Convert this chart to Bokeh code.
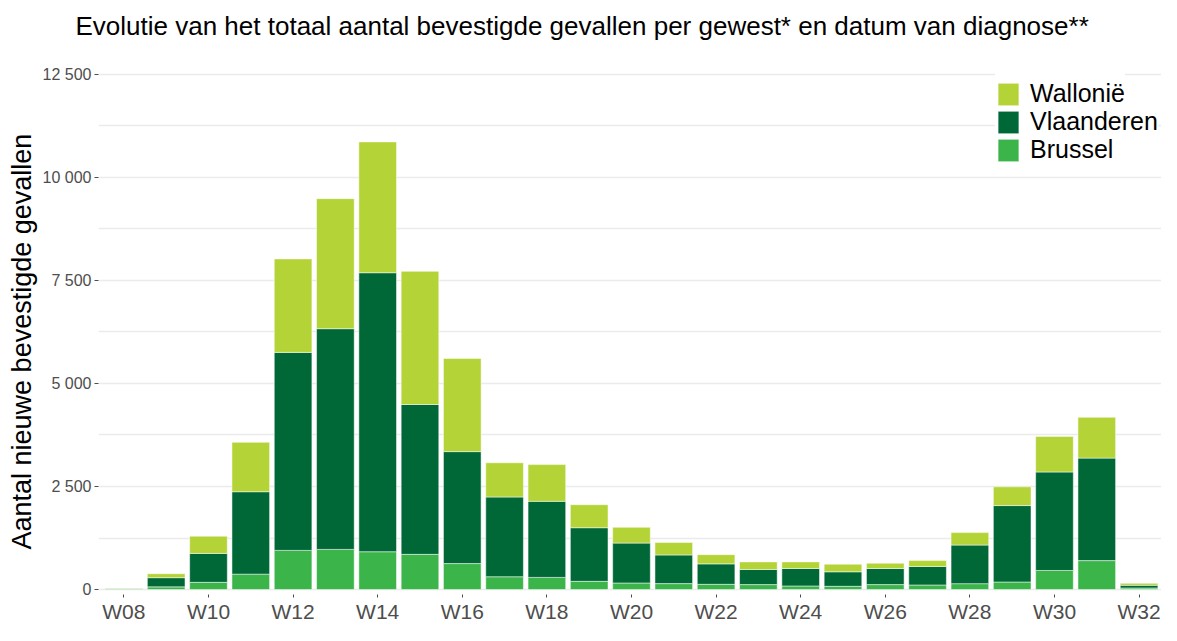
from bokeh.plotting import figure
from bokeh.models import (Range1d, FixedTicker, Legend, LegendItem, Title,
                          ColumnDataSource)
from bokeh.embed import file_html
from bokeh.resources import INLINE

# ---------------- data ----------------
weeks = ["W08", "W09", "W10", "W11", "W12", "W13", "W14", "W15", "W16", "W17",
         "W18", "W19", "W20", "W21", "W22", "W23", "W24", "W25", "W26", "W27",
         "W28", "W29", "W30", "W31", "W32"]
brussel = [20, 65, 175, 374, 950, 974, 918, 854, 630, 311, 295, 199, 159, 144,
           127, 120, 87, 79, 120, 111, 143, 183, 463, 702, 38]
vlaanderen = [12, 223, 702, 1999, 4803, 5354, 6767, 3635, 2716, 1934, 1845, 1301,
              968, 695, 496, 367, 424, 352, 391, 448, 936, 1854, 2389, 2486, 65]
wallonie = [4, 96, 417, 1198, 2267, 3154, 3173, 3229, 2259, 830, 891, 558, 383,
            302, 223, 184, 160, 184, 127, 143, 302, 455, 863, 990, 48]
series_names = ["Brussel", "Vlaanderen", "Wallonië"]
series_colors = ["#3bb54a", "#006837", "#b4d337"]
y_ticks = [0, 2500, 5000, 7500, 10000, 12500]
y_labels = ["0", "2 500", "5 000", "7 500", "10 000", "12 500"]
x_label_weeks = ["W08", "W10", "W12", "W14", "W16", "W18", "W20", "W22",
                 "W24", "W26", "W28", "W30", "W32"]

title_text = "Evolutie van het totaal aantal bevestigde gevallen per gewest* en datum van diagnose**"
ylabel_text = "Aantal nieuwe bevestigde gevallen"

FONT = "Liberation Sans"

# ---------------- figure ----------------
xs = list(range(len(weeks)))
source = ColumnDataSource(dict(x=xs, Brussel=brussel, Vlaanderen=vlaanderen,
                               Wallonie=wallonie))

p = figure(width=1161, height=625, output_backend="svg",
           toolbar_location=None,
           x_range=Range1d(-0.6, 24.53), y_range=Range1d(-120, 13124),
           min_border_left=98, min_border_right=0, min_border_top=45,
           min_border_bottom=28)
p.outline_line_color = None
p.background_fill_color = "white"
p.border_fill_color = "white"

renderers = p.vbar_stack(["Brussel", "Vlaanderen", "Wallonie"], x="x",
                         width=0.89, color=series_colors, line_color="white",
                         line_width=0.5, source=source)

# title
p.title.text = title_text
p.title.align = "left"
p.title.offset = -23
p.title.vertical_align = "bottom"
p.title.text_font = FONT
p.title.text_font_size = "26px"
p.title.text_font_style = "normal"
p.title.text_color = "#000000"
p.title.standoff = 16

# y label as a side title
ylab = Title(text=ylabel_text, align="left", offset=45, text_font=FONT,
             text_font_size="27px", text_font_style="normal",
             text_color="#000000", standoff=6)
p.add_layout(ylab, "left")

# axes
p.yaxis.ticker = FixedTicker(ticks=y_ticks,
                             minor_ticks=[t + 1250 for t in y_ticks])
p.yaxis.major_label_overrides = {t: l for t, l in zip(y_ticks, y_labels)}
p.yaxis.axis_line_color = None
p.yaxis.major_tick_line_color = "#4d4d4d"
p.yaxis.major_tick_out = 4
p.yaxis.major_tick_in = 0
p.yaxis.minor_tick_line_color = None
p.yaxis.major_label_text_font = FONT
p.yaxis.major_label_text_font_size = "16px"
p.yaxis.major_label_text_color = "#4d4d4d"
p.yaxis.major_label_standoff = 3

x_tick_pos = [weeks.index(w) for w in x_label_weeks]
p.xaxis.ticker = FixedTicker(ticks=x_tick_pos)
p.xaxis.major_label_overrides = {i: w for i, w in zip(x_tick_pos, x_label_weeks)}
p.xaxis.axis_line_color = None
p.xaxis.major_tick_line_color = "#4d4d4d"
p.xaxis.major_tick_out = 3
p.xaxis.major_tick_in = 0
p.xaxis.minor_tick_line_color = None
p.xaxis.major_label_text_font = FONT
p.xaxis.major_label_text_font_size = "21px"
p.xaxis.major_label_text_color = "#4d4d4d"
p.xaxis.major_label_standoff = 2

# grid
p.xgrid.grid_line_color = None
p.ygrid.grid_line_color = "#ebebeb"
p.ygrid.grid_line_width = 1.5
p.ygrid.minor_grid_line_color = "#ebebeb"
p.ygrid.minor_grid_line_width = 1.5

# legend: one single-item legend per row, top to bottom
legend_rows = [(2, 486), (1, 458), (0, 430)]
for k, (i, ybot) in enumerate(legend_rows):
    kw = {}
    if k == 0:
        kw = dict(title=" ", title_text_font_size="20px", title_standoff=15)
    lg = Legend(items=[LegendItem(label=series_names[i],
                                  renderers=[renderers[i]])],
                location=(897, ybot),
                label_text_font=FONT, label_text_font_size="25px",
                label_text_color="#000000",
                glyph_width=26, glyph_height=28, label_height=28,
                label_standoff=9, spacing=0, padding=0, margin=0,
                border_line_color=None, background_fill_color="white",
                background_fill_alpha=1.0, **kw)
    p.add_layout(lg, "center")

open("out.html", "w").write(file_html(p, INLINE))
